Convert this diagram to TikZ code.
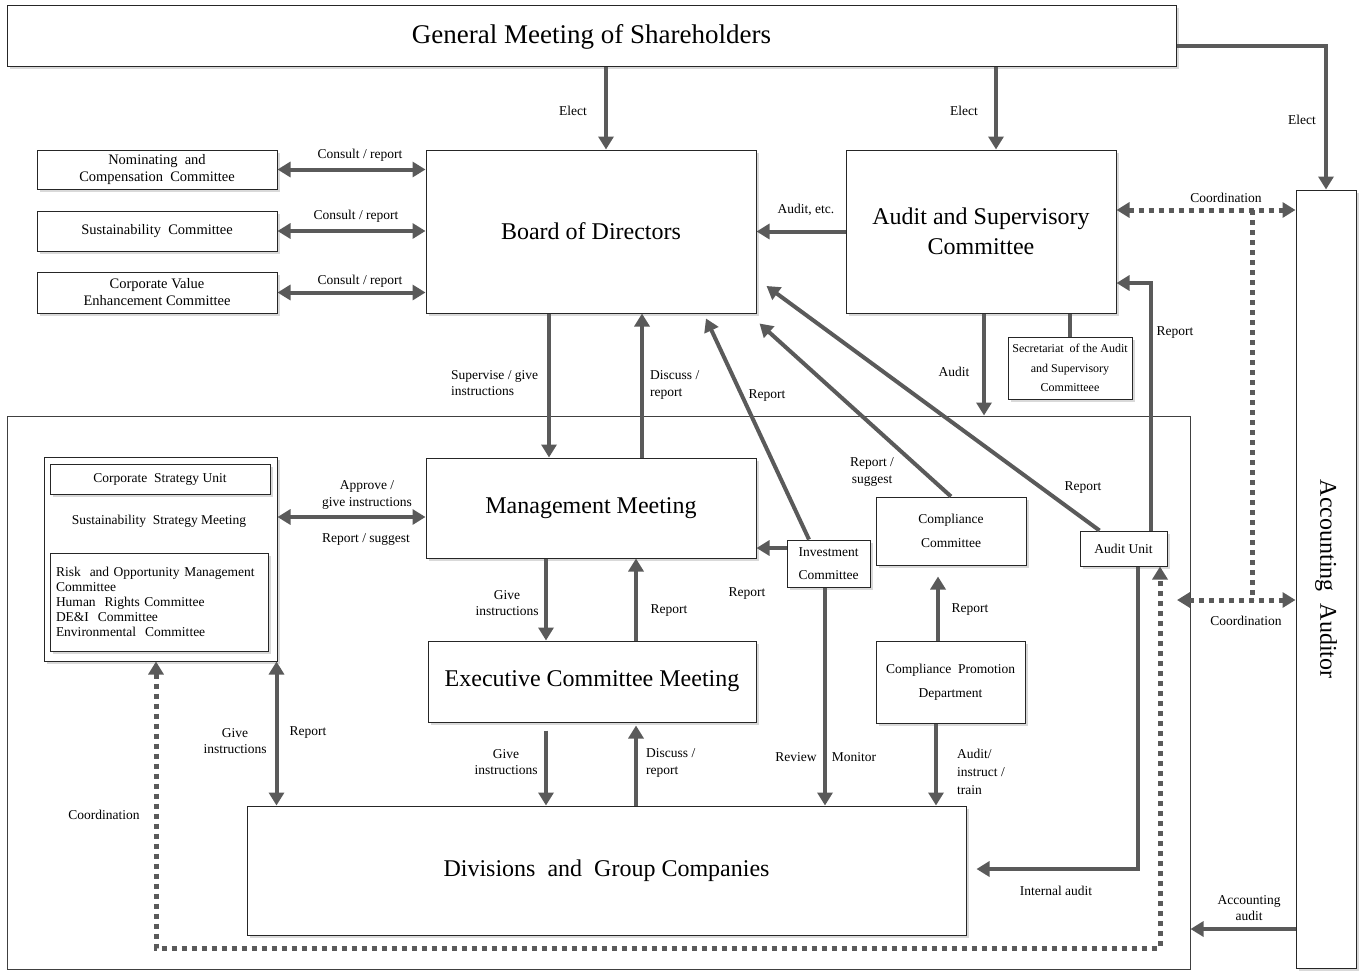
\documentclass[tikz,border=0pt]{standalone}
\usepackage{fontspec}
\setmainfont{Liberation Serif}
\usetikzlibrary{arrows.meta,positioning,calc,shadows}

\definecolor{arrgray}{HTML}{5A5A5A}

\tikzset{
  box/.style={draw=black!85, line width=1pt, fill=white, inner sep=2pt, align=center,
    drop shadow={shadow xshift=2.5pt, shadow yshift=-2.5pt, opacity=0.3}},
  frame/.style={draw=black!75, line width=1pt, inner sep=0pt},
  hugetext/.style={font=\fontsize{27}{32}\selectfont},
  bigtext/.style={font=\fontsize{24}{30}\selectfont},
  boxtext/.style={font=\fontsize{14.5}{17}\selectfont},
  smalltext/.style={font=\fontsize{13.5}{23.5}\selectfont},
  lbl/.style={font=\fontsize{13.5}{16.5}\selectfont, inner sep=0pt, align=center},
  tip/.tip={Triangle[length=13pt, width=15pt]},
  arr/.style={draw=arrgray, line width=4pt, -tip},
  darr/.style={draw=arrgray, line width=4pt, tip-tip},
  link/.style={draw=arrgray, line width=4pt},
  dotline/.style={draw=arrgray, line width=5pt, dash pattern=on 5pt off 5pt},
  ddot/.style={dotline, tip-tip},
}

\begin{document}
\begin{tikzpicture}[x=1pt, y=-1pt]
\useasboundingbox (0,0) rectangle (1364,971);

% frame round the executive side
\node[frame, minimum width=1183, minimum height=553] (grp) at (598.5,692.5) {};

% top level
\node[box, hugetext, minimum width=1169, minimum height=61] (gms) at (591.5,36.5) {General Meeting of Shareholders};
\node[box, bigtext, minimum width=330, minimum height=163] (brd) at (591,231.5) {Board of Directors};
\node[box, bigtext, minimum width=270, minimum height=163] (asc) at (981,231.5) {Audit and Supervisory\\Committee};
\node[box, minimum width=60, minimum height=778] (acc) at (1326,579) {};
\node[bigtext, rotate=-90] (acctext) at (acc.center) {Accounting\ \ Auditor};

% committees of the board
\node[box, boxtext, minimum width=240, minimum height=39] (nom) at (157,169.5) {Nominating\ \ and\\Compensation\ \ Committee};
\node[box, boxtext, minimum width=240, minimum height=40] (sus) at (157,231) {Sustainability\ \ Committee};
\node[box, boxtext, minimum width=240, minimum height=41] (cve) at (157,292.5) {Corporate Value\\Enhancement Committee};
\node[box, font=\fontsize{12}{19.5}\selectfont, minimum width=124, minimum height=62] (sec) at (1070,368) {Secretariat\ \ of the Audit\\and Supervisory\\Committeee};

% executive side
\node[box, bigtext, minimum width=330, minimum height=100] (mm) at (591,508) {Management Meeting};
\node[box, bigtext, minimum width=328, minimum height=81] (ecm) at (592,681.5) {Executive Committee Meeting};
\node[box, bigtext, minimum width=719, minimum height=129] (div) at (606.5,870.5) {Divisions\ \ and\ \ Group Companies};
\node[box, smalltext, minimum width=83, minimum height=47] (inv) at (828.5,563.5) {Investment\\Committee};
\node[box, smalltext, minimum width=150, minimum height=68] (cc) at (951,531) {Compliance\\Committee};
\node[box, smalltext, minimum width=149, minimum height=82] (cpd) at (950.5,682) {Compliance\ \ Promotion\\Department};
\node[box, font=\fontsize{13.5}{16}\selectfont, minimum width=87, minimum height=35] (au) at (1123.5,548.5) {Audit Unit};

% sustainability strategy meeting
\node[box, minimum width=233, minimum height=204] (ssm) at (160.5,559) {};
\node[box, font=\fontsize{13.5}{16}\selectfont, minimum width=220, minimum height=30] (csu) at (160,479) {Corporate\ \ Strategy Unit};
\node[font=\fontsize{13.5}{16}\selectfont] (ssmtext) at (159,521) {Sustainability\ \ Strategy Meeting};
\node[box, font=\fontsize{13.5}{15}\selectfont, minimum width=218, minimum height=98, text width=206, align=left] (rom) at (159,602)
  {Risk\ \ and Opportunity Management\\Committee\\Human\ \ Rights Committee\\DE\&I\ \ Committee\\Environmental\ \ Committee};

% election
\coordinate (e2) at ([xshift=15]asc.north);
\draw[arr] ([xshift=14.5]gms.south) -- ([xshift=15]brd.north);
\draw[arr] (e2 |- gms.south) -- (e2);
\draw[arr] ([yshift=-9.5]gms.east) -| (acc.north);
\node[lbl] (el1) at (573,111) {Elect};
\node[lbl] (el2) at (964,111) {Elect};
\node[lbl] (el3) at (1302,120) {Elect};

% board committees
\draw[darr] (nom.east) -- (nom.east -| brd.west);
\draw[darr] (sus.east) -- (sus.east -| brd.west);
\draw[darr] (cve.east) -- (cve.east -| brd.west);
\node[lbl] (cr1) at (360,155) {Consult / report};
\node[lbl] (cr2) at (356,216) {Consult / report};
\node[lbl] (cr3) at (360,281) {Consult / report};

% audit and supervisory committee
\draw[arr] (asc.west) -- (brd.east);
\node[lbl] (aud1) at (806,210) {Audit, etc.};
\draw[arr] ([xshift=3]asc.south) -- ([xshift=3]asc.south |- grp.north);
\node[lbl] (aud2) at (954,372) {Audit};
\draw[link] (sec.north) -- (sec.north |- asc.south);
\draw[arr] ([xshift=27]au.north) |- ([yshift=-51.5]asc.east);
\node[lbl] (rp1) at (1175,333) {Report};

% coordination with the accounting auditor
\coordinate (cT) at (1252,210);
\coordinate (cB) at (1252,600);
\coordinate (cL) at (1177,600);
\draw[ddot] ([yshift=21.5]asc.east) -- ([yshift=21.5]asc.east -| acc.west);
\draw[dotline] (cT) -- (cB);
\draw[ddot] (cL) -- (cL -| acc.west);
\node[lbl] (co1) at (1226,198) {Coordination};
\node[lbl] (co2) at (1246,621) {Coordination};
\draw[arr] ([yshift=-350]acc.west) -- ([yshift=-350]acc.west -| grp.east);
\node[lbl] (aa) at (1249,908) {Accounting\\audit};

% board and management meeting
\draw[arr] ([xshift=-42]brd.south) -- ([xshift=-42]mm.north);
\draw[arr] ([xshift=51]mm.north) -- ([xshift=51]brd.south);
\node[lbl, anchor=west, align=left] (sv) at (451,383) {Supervise / give\\instructions};
\node[lbl, anchor=west, align=left] (dr1) at (650,385) {Discuss /\\report};

% reports to the board
\draw[arr] ([xshift=-19.5]inv.north) -- ([xshift=115,yshift=-5]brd.south);
\draw[arr] (cc.north) -- ([xshift=3,yshift=-10]brd.south east);
\draw[arr] ([xshift=20]au.north west) -- ([xshift=10,yshift=-54.5]brd.east);
\node[lbl] (rp2) at (767,396) {Report};
\node[lbl] (rs1) at (872,472) {Report /\\suggest};
\node[lbl] (rp3) at (1083,488) {Report};

% sustainability strategy meeting links
\draw[darr] ([yshift=42]ssm.east) -- ([yshift=42]ssm.east -| mm.west);
\node[lbl] (ap) at (367,495) {Approve /\\give instructions};
\node[lbl] (rs2) at (366,540) {Report / suggest};
\draw[darr] ([xshift=-1]ssm.south east) -- ([xshift=-1]ssm.south east |- div.north);
\node[lbl] (gi1) at (235,741) {Give\\instructions};
\node[lbl] (rp4) at (308,733) {Report};
\draw[ddot] ([xshift=-4.5]ssm.south) |- (606,948) -| ([xshift=36.5]au.south);
\node[lbl] (co3) at (104,815) {Coordination};

% management meeting and executive committee meeting
\draw[arr] ([xshift=-45]mm.south) -- ([xshift=-45]mm.south |- ecm.north);
\draw[arr] ([xshift=45]mm.south |- ecm.north) -- ([xshift=45]mm.south);
\node[lbl] (gi2) at (507,603) {Give\\instructions};
\node[lbl] (rp5) at (669,611) {Report};
\draw[arr] ([yshift=15.5]inv.west) -- ([yshift=15.5]inv.west -| mm.east);
\node[lbl] (rp6) at (747,594) {Report};

% executive committee meeting and divisions
\draw[arr] ([xshift=-46,yshift=-8]ecm.south) -- ([xshift=-46]ecm.south |- div.north);
\draw[arr] ([xshift=44]ecm.south |- div.north) -- ([xshift=44,yshift=-3]ecm.south);
\node[lbl] (gi3) at (506,762) {Give\\instructions};
\node[lbl, anchor=west, align=left] (dr2) at (646,763) {Discuss /\\report};

% investment and compliance
\draw[arr] ([xshift=-3.5]inv.south) -- ([xshift=-3.5]inv.south |- div.north);
\node[lbl] (rv) at (796,757) {Review};
\node[lbl] (mo) at (854,757) {Monitor};
\draw[arr] ([xshift=-12.5]cpd.north) -- ++(0,-64);
\node[lbl] (rp7) at (970,610) {Report};
\draw[arr] ([xshift=-14.5]cpd.south) -- ([xshift=-14.5]cpd.south |- div.north);
\node[lbl, anchor=north west, align=left, font=\fontsize{13.5}{18}\selectfont] (ait) at (957,749) {Audit/\\instruct /\\train};

% internal audit
\draw[arr] ([xshift=14.5]au.south) |- ([xshift=10,yshift=1.5]div.east);
\node[lbl] (ia) at (1056,891) {Internal audit};
\end{tikzpicture}
\end{document}
